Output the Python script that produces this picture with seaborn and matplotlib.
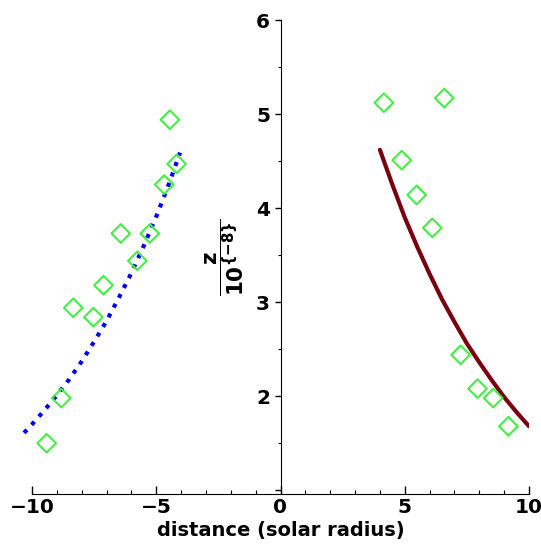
import matplotlib
matplotlib.use("Agg")
import matplotlib.pyplot as plt
import seaborn as sns
import pandas as pd
from matplotlib.ticker import MultipleLocator, FixedLocator

# --- data ---
left_line_x = [-10.32, -10.0, -9.5, -9.0, -8.5, -8.0, -7.5, -7.0, -6.5, -6.0, -5.5, -5.0, -4.5, -4.04]
left_line_y = [1.61, 1.70, 1.85, 2.01, 2.18, 2.37, 2.58, 2.80, 3.05, 3.31, 3.60, 3.91, 4.25, 4.59]

right_line_x = [4.0, 4.5, 5.0, 5.5, 6.0, 6.5, 7.0, 7.5, 8.0, 8.5, 9.0, 9.5, 10.0]
right_line_y = [4.62, 4.25, 3.90, 3.59, 3.30, 3.03, 2.79, 2.56, 2.36, 2.17, 1.99, 1.83, 1.68]

obs_x = [-4.45, -4.18, -4.68, -6.43, -5.26, -5.76, -7.12, -8.34, -7.53, -8.82, -9.41,
         4.16, 6.59, 4.88, 5.48, 6.11, 7.25, 7.93, 8.56, 9.17]
obs_y = [4.94, 4.47, 4.25, 3.73, 3.73, 3.44, 3.18, 2.94, 2.84, 1.98, 1.50,
         5.12, 5.17, 4.51, 4.14, 3.79, 2.44, 2.08, 1.98, 1.68]

x_ticks = [-10, -5, 0, 5, 10]
x_ticklabels = ["\u221210", "\u22125", "0", "5", "10"]
y_ticks = [1, 2, 3, 4, 5, 6]
y_ticklabels = ["", "2", "3", "4", "5", "6"]

sns.set_style("ticks")
plt.rcParams["font.family"] = ["DejaVu Sans"]
plt.rcParams["font.weight"] = "bold"
plt.rcParams["mathtext.default"] = "bf"
for k in ["text.color", "axes.labelcolor", "xtick.color", "ytick.color", "axes.edgecolor"]:
    plt.rcParams[k] = "black"

fig = plt.figure(figsize=(5.41, 5.45), dpi=100)
ax = fig.add_axes([32/541, 1-494/545, (529-32)/541, (494-20)/545])

left_df = pd.DataFrame({"x": left_line_x, "y": left_line_y})
right_df = pd.DataFrame({"x": right_line_x, "y": right_line_y})
obs_df = pd.DataFrame({"x": obs_x, "y": obs_y})

sns.lineplot(data=left_df, x="x", y="y", ax=ax, color="#0000ff", lw=3.0,
             linestyle=":", clip_on=False)
sns.lineplot(data=right_df, x="x", y="y", ax=ax, color="#7a0010", lw=3.0)
sns.scatterplot(data=obs_df, x="x", y="y", ax=ax, marker="D", s=90,
                facecolor="none", edgecolor="#44ee44", linewidth=1.5, zorder=3)

ax.set_xlim(-10, 10)
ax.set_ylim(0.96, 6)

ax.spines["left"].set_position(("data", 0))
ax.spines["right"].set_visible(False)
ax.spines["top"].set_visible(False)

ax.xaxis.set_major_locator(FixedLocator(x_ticks))
ax.set_xticklabels(x_ticklabels)
ax.xaxis.set_minor_locator(MultipleLocator(1))
ax.yaxis.set_major_locator(FixedLocator(y_ticks))
ax.set_yticklabels(y_ticklabels)
ax.yaxis.set_minor_locator(MultipleLocator(0.5))

ax.tick_params(axis="x", which="major", direction="in", length=5.5, width=1, labelsize=14.5, pad=3)
ax.tick_params(axis="x", which="minor", direction="in", length=3, width=0.8)
ax.tick_params(axis="y", which="major", direction="out", length=4, width=1, labelsize=14.5)
ax.tick_params(axis="y", which="minor", direction="out", length=2.5, width=0.8)
for lab in ax.get_xticklabels() + ax.get_yticklabels():
    lab.set_fontweight("bold")

ax.set_xlabel("distance (solar radius)", fontsize=14, fontweight="bold", labelpad=3)
ax.set_ylabel(r"$\dfrac{z}{10^{\{-8\}}}$", fontsize=15.5, labelpad=7)

fig.savefig("out.png", dpi=100)
